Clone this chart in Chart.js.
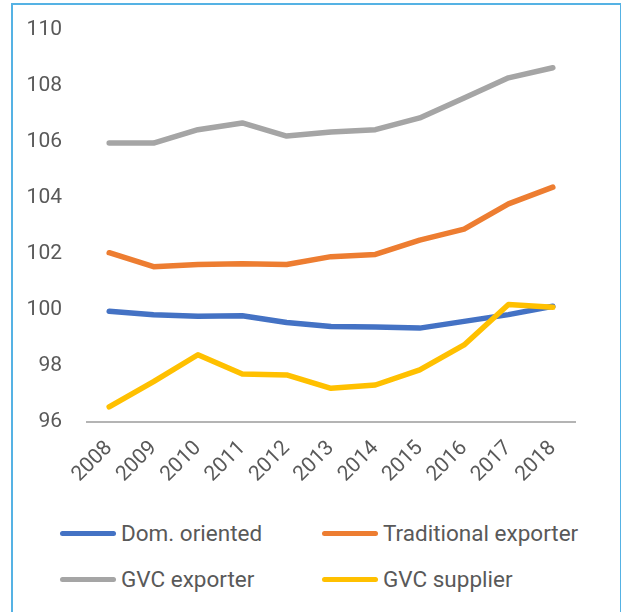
<!DOCTYPE html>
<html>
<head>
<meta charset="utf-8">
<script src="https://cdn.jsdelivr.net/npm/chart.js@4/dist/chart.umd.min.js"></script>
<style>
    body { margin: 0; background: #fff; }
    #frame {
        position: absolute; left: 11px; top: 3px;
        width: 607px; height: 650px;
        border: 2px solid #55b2e4;
    }
    #wrap { position: absolute; left: 0; top: 0; width: 621px; height: 500px; }
    #legend { position: absolute; left: 0; top: 0; font-family: Roboto, sans-serif; font-size: 22.5px; color: #595959; }
    .item { position: absolute; display: flex; align-items: center; white-space: nowrap; }
    .swatch { width: 56px; height: 5px; border-radius: 3px; margin-right: 5px; }
</style>
</head>
<body>
<div id="frame"></div>
<div id="wrap"><canvas id="lineChart" width="621" height="500"></canvas></div>
<div id="legend"></div>
<script>
var years = ['2008', '2009', '2010', '2011', '2012', '2013', '2014', '2015', '2016', '2017', '2018'];
var seriesNames = ['Dom. oriented', 'Traditional exporter', 'GVC exporter', 'GVC supplier'];
var domOriented = [99.95, 99.83, 99.77, 99.79, 99.55, 99.41, 99.39, 99.35, 99.59, 99.83, 100.13];
var traditionalExporter = [102.04, 101.54, 101.62, 101.65, 101.62, 101.9, 101.98, 102.49, 102.88, 103.78, 104.38];
var gvcExporter = [105.95, 105.95, 106.43, 106.67, 106.2, 106.35, 106.43, 106.85, 107.56, 108.28, 108.64];
var gvcSupplier = [96.54, 97.44, 98.4, 97.71, 97.68, 97.2, 97.32, 97.86, 98.75, 100.19, 100.09];
var yMin = 96, yMax = 110, yStep = 2;

var colors = ['#4472c4', '#ed7d31', '#a5a5a5', '#ffc000'];
var allSeries = [domOriented, traditionalExporter, gvcExporter, gvcSupplier];

var datasets = allSeries.map(function(values, i) {
    return {
        label: seriesNames[i],
        data: values,
        borderColor: colors[i],
        backgroundColor: colors[i],
        borderWidth: 5.5,
        borderCapStyle: 'round',
        borderJoinStyle: 'round',
        pointRadius: 0,
        tension: 0,
        order: allSeries.length - i // later series drawn on top, like Excel
    };
});

var tickFont = { family: 'Roboto', size: 21 };

var ctx = document.getElementById('lineChart').getContext('2d');
var chart = new Chart(ctx, {
    type: 'line',
    data: { labels: years, datasets: datasets },
    options: {
        responsive: false,
        animation: false,
        layout: { padding: { left: 0, right: 46, top: 28, bottom: 0 } },
        plugins: { legend: { display: false }, tooltip: { enabled: false } },
        scales: {
            x: {
                offset: true,
                grid: { display: false },
                border: { display: true, color: '#b4b4b4', width: 2 },
                ticks: { color: '#595959', font: tickFont, minRotation: 45, maxRotation: 45, padding: 6 },
                afterFit: function(scale) { scale.height = 78; }
            },
            y: {
                min: yMin,
                max: yMax,
                grid: { display: false },
                border: { display: false },
                ticks: { stepSize: yStep, color: '#595959', font: tickFont, padding: 17 },
                afterFit: function(scale) { scale.width = 87; }
            }
        }
    }
});

// legend in two columns, built from the chart's datasets
var legendPos = [[60, 533], [322, 533], [60, 579], [322, 579]];
var legendEl = document.getElementById('legend');
chart.data.datasets.forEach(function(ds, i) {
    var item = document.createElement('div');
    item.className = 'item';
    item.style.left = legendPos[i][0] + 'px';
    item.style.top = (legendPos[i][1] - 14) + 'px';
    item.style.height = '28px';
    var sw = document.createElement('span');
    sw.className = 'swatch';
    sw.style.background = ds.borderColor;
    var txt = document.createElement('span');
    txt.textContent = ds.label;
    item.appendChild(sw);
    item.appendChild(txt);
    legendEl.appendChild(item);
});
</script>
</body>
</html>
